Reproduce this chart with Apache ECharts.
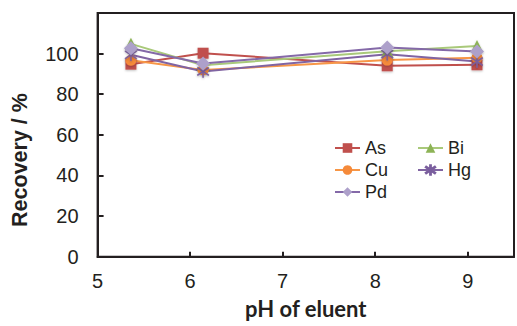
<!DOCTYPE html>
<html>
<head>
<meta charset="utf-8">
<script src="https://cdn.jsdelivr.net/npm/echarts@6/dist/echarts.min.js"></script>
<style>
  html, body { margin: 0; padding: 0; background: #fff; }
  #chart { width: 517px; height: 326px; }
</style>
</head>
<body>
<div id="chart"></div>
<script>
// pH values where recovery was measured
const phValues = [5.36, 6.14, 8.13, 9.1];

// recovery (%) for each element
const asData = [94.8, 100.2, 94.0, 94.5];
const biData = [104.8, 94.3, 101.2, 103.8];
const cuData = [96.7, 91.9, 96.8, 98.0];
const hgData = [99.4, 91.2, 99.7, 96.1];
const pdData = [102.6, 95.1, 103.0, 101.0];

const yTicks = [0, 20, 40, 60, 80, 100];

// asterisk marker for Hg (Excel style "*")
const starPath = 'path://M9.2,0 L10.8,0 L10.8,20 L9.2,20 Z M0.5,4.4 L1.5,3 L19.5,15.6 L18.5,17 Z M18.5,3 L19.5,4.4 L1.5,17 L0.5,15.6 Z';

const chart = echarts.init(document.getElementById('chart'), null, { renderer: 'svg' });

function mkSeries(name, data, lineColor, markColor, symbol, size) {
  return {
    name: name,
    type: 'line',
    data: phValues.map((x, i) => [x, data[i]]),
    symbol: symbol,
    symbolSize: size,
    showAllSymbol: true,
    lineStyle: { color: lineColor, width: 2 },
    itemStyle: {
      color: markColor,
      borderColor: markColor,
      borderWidth: symbol === starPath ? 0.6 : 0,
      shadowColor: 'rgba(0,0,0,0.25)',
      shadowBlur: 2,
      shadowOffsetY: 1
    },
    emphasis: { disabled: true }
  };
}

const legendText = { fontFamily: 'Liberation Sans, Arial, sans-serif', fontSize: 18, color: '#231f20' };

chart.setOption({
  animation: false,
  grid: {
    left: 97.6, right: -1.5, top: 13, bottom: 69.3,
    show: true, borderColor: '#231f20', borderWidth: 2
  },
  xAxis: {
    type: 'value',
    min: 5, max: 9.5, interval: 1,
    name: 'pH of eluent',
    nameLocation: 'middle',
    nameGap: 41,
    nameTextStyle: { fontFamily: 'Lato, sans-serif', fontWeight: 'bold', fontSize: 22, color: '#231f20' },
    axisLine: { lineStyle: { color: '#231f20', width: 2 } },
    axisTick: { inside: true, length: 5, lineStyle: { color: '#231f20', width: 2 } },
    axisLabel: {
      margin: 14,
      fontFamily: 'Liberation Sans, Arial, sans-serif', fontSize: 20, color: '#231f20',
      formatter: v => (v > 9.2 ? '' : String(v))
    },
    splitLine: { show: false }
  },
  yAxis: {
    type: 'value',
    min: 0, max: 120, interval: 20,
    axisLine: { show: true, lineStyle: { color: '#231f20', width: 2 } },
    axisTick: { show: true, inside: true, length: 6, lineStyle: { color: '#231f20', width: 2 } },
    axisLabel: {
      margin: 19,
      fontFamily: 'Liberation Sans, Arial, sans-serif', fontSize: 20, color: '#231f20',
      formatter: v => (yTicks.indexOf(v) >= 0 ? String(v) : '')
    },
    splitLine: { show: false }
  },
  legend: [
    {
      data: ['As', 'Cu', 'Pd'],
      orient: 'vertical',
      left: 329, top: 134,
      itemWidth: 25, itemHeight: 12, itemGap: 4,
      textStyle: legendText
    },
    {
      data: ['Bi', 'Hg'],
      orient: 'vertical',
      left: 412, top: 134,
      itemWidth: 25, itemHeight: 12, itemGap: 4,
      textStyle: legendText
    }
  ],
  graphic: [
    {
      type: 'text',
      x: 20, y: 160,
      rotation: Math.PI / 2,
      style: {
        text: 'Recovery / %',
        fontFamily: 'Liberation Sans, Arial, sans-serif',
        fontWeight: 'bold', fontSize: 21.5,
        fill: '#231f20',
        align: 'center', verticalAlign: 'middle'
      }
    }
  ],
  series: [
    mkSeries('As', asData, '#C0504D', '#C0504D', 'rect', 11),
    mkSeries('Bi', biData, '#A9C97A', '#8DB356', 'triangle', 12),
    mkSeries('Cu', cuData, '#F79646', '#F58A3A', 'circle', 11),
    mkSeries('Hg', hgData, '#8064A2', '#7A5E9E', starPath, 12),
    mkSeries('Pd', pdData, '#8469A8', '#ADA0CA', 'diamond', 14)
  ]
});
</script>
</body>
</html>
